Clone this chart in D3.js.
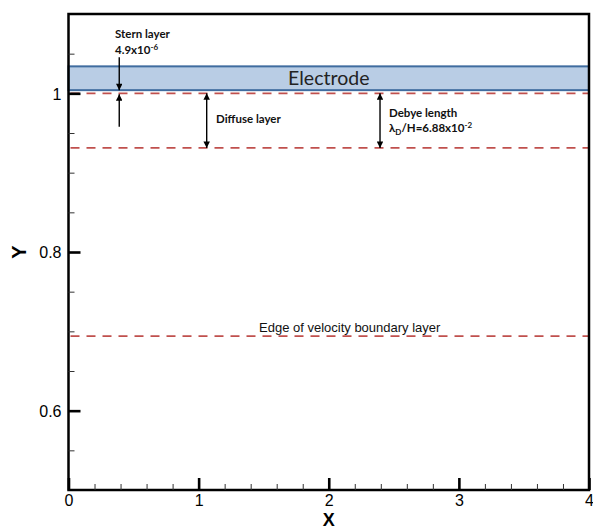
<!DOCTYPE html>
<html>
<head>
<meta charset="utf-8">
<script src="https://cdn.jsdelivr.net/npm/d3@7"></script>
<style>
  html, body { margin: 0; padding: 0; background: #fff; }
  svg { display: block; }
</style>
</head>
<body>
<svg id="chart" width="593" height="530"></svg>
<script>
// Axis ranges and tick values
const xDomain = [0, 4];
const yDomain = [0.5, 1.1];
const xMajorTicks = [0, 1, 2, 3, 4];
const xMinorTicks = [0.2, 0.4, 0.6, 0.8, 1.2, 1.4, 1.6, 1.8, 2.2, 2.4, 2.6, 2.8, 3.2, 3.4, 3.6, 3.8];
const yMajorTicks = [0.6, 0.8, 1.0];
const yMajorLabels = ["0.6", "0.8", "1"];
const yMinorTicks = [0.55, 0.65, 0.7, 0.75, 0.85, 0.9, 0.95, 1.05];

// Electrode slab (bottom, top) in Y
const electrode = [1.004, 1.034];

// Horizontal reference levels: wall, Debye length edge, velocity boundary layer edge
const debyeLength = 0.0688;
const levelNames = ["wall", "debye", "boundary"];
const levelValues = [1.0, 1.0 - debyeLength, 0.694];

// Dimension arrows: x position, y from, y to (arrow heads at the listed ends)
const arrowNames = ["sternDown", "sternUp", "diffuse", "debye"];
const arrowX = [0.39, 0.39, 1.062, 2.394];
const arrowY0 = [1.0455, 0.958, 0.9312, 0.9312];
const arrowY1 = [1.004, 0.999, 1.0, 1.0];
const arrowDouble = [false, false, true, true];

const svg = d3.select("#chart");
const plotLeft = 68.5, plotRight = 589, plotTop = 14, plotBottom = 490;

const x = d3.scaleLinear().domain(xDomain).range([plotLeft, plotRight]);
const y = d3.scaleLinear().domain(yDomain).range([plotBottom, plotTop]);

const labelFont = "'Liberation Sans', Arial, Helvetica, sans-serif";
const noteFont = "Lato, 'Open Sans', sans-serif";

// Arrow head marker
const defs = svg.append("defs");
defs.append("marker")
  .attr("id", "head")
  .attr("viewBox", "0 0 10 10")
  .attr("refX", 10).attr("refY", 5)
  .attr("markerWidth", 9).attr("markerHeight", 6.5)
  .attr("markerUnits", "userSpaceOnUse")
  .attr("orient", "auto-start-reverse")
  .append("path").attr("d", "M0,0 L10,5 L0,10 Z").attr("fill", "#000");

// Electrode slab
svg.append("rect")
  .attr("x", x(0))
  .attr("y", y(electrode[1]))
  .attr("width", x(4) - x(0))
  .attr("height", y(electrode[0]) - y(electrode[1]))
  .attr("fill", "#b9cde5")
  .attr("stroke", "#3f6c9f")
  .attr("stroke-width", 2);

svg.append("text")
  .attr("x", x(2))
  .attr("y", y((electrode[0] + electrode[1]) / 2) + 7)
  .attr("text-anchor", "middle")
  .attr("font-family", noteFont)
  .attr("font-size", 19.5)
  .attr("fill", "#222")
  .text("Electrode");

// Dashed reference levels
svg.append("g").selectAll("line")
  .data(levelValues)
  .join("line")
  .attr("x1", x(0) + 2)
  .attr("x2", x(4))
  .attr("y1", d => y(d))
  .attr("y2", d => y(d))
  .attr("stroke", "#c0504d")
  .attr("stroke-width", 1.8)
  .attr("stroke-dasharray", "9,7");

// Frame
svg.append("rect")
  .attr("x", plotLeft).attr("y", plotTop)
  .attr("width", plotRight - plotLeft).attr("height", plotBottom - plotTop)
  .attr("fill", "none")
  .attr("stroke", "#000")
  .attr("stroke-width", 2.5);

// Bottom axis: inward ticks, labels below
const xMajor = svg.append("g")
  .attr("transform", `translate(0,${plotBottom})`)
  .call(d3.axisBottom(x).tickValues(xMajorTicks).tickFormat(d3.format("d"))
    .tickSizeInner(-12).tickSizeOuter(0).tickPadding(4.5));
const xMinor = svg.append("g")
  .attr("transform", `translate(0,${plotBottom})`)
  .call(d3.axisBottom(x).tickValues(xMinorTicks).tickFormat("")
    .tickSizeInner(-6).tickSizeOuter(0));

// Left axis
const yMajor = svg.append("g")
  .attr("transform", `translate(${plotLeft},0)`)
  .call(d3.axisLeft(y).tickValues(yMajorTicks)
    .tickFormat((d, i) => yMajorLabels[i])
    .tickSizeInner(-12).tickSizeOuter(0).tickPadding(7));
const yMinor = svg.append("g")
  .attr("transform", `translate(${plotLeft},0)`)
  .call(d3.axisLeft(y).tickValues(yMinorTicks).tickFormat("")
    .tickSizeInner(-6).tickSizeOuter(0));

[xMajor, xMinor, yMajor, yMinor].forEach(g => g.select(".domain").remove());
[xMajor, yMajor].forEach(g => {
  g.selectAll(".tick line").attr("stroke", "#000").attr("stroke-width", 2.6);
  g.selectAll(".tick text")
    .attr("font-family", labelFont)
    .attr("font-size", 16)
    .attr("fill", "#000");
});
[xMinor, yMinor].forEach(g => {
  g.selectAll(".tick line").attr("stroke", "#333").attr("stroke-width", 1);
});
yMajor.selectAll(".tick text").attr("dy", "0.36em");

// Axis titles
svg.append("text")
  .attr("x", x(2))
  .attr("y", 526)
  .attr("text-anchor", "middle")
  .attr("font-family", labelFont)
  .attr("font-weight", "bold")
  .attr("font-size", 18)
  .text("X");

svg.append("text")
  .attr("transform", `translate(26,${y(0.8)}) rotate(-90)`)
  .attr("text-anchor", "middle")
  .attr("font-family", labelFont)
  .attr("font-weight", "bold")
  .attr("font-size", 20)
  .text("Y");

// Dimension arrows
svg.append("g").selectAll("line")
  .data(arrowNames)
  .join("line")
  .attr("x1", (d, i) => x(arrowX[i]))
  .attr("x2", (d, i) => x(arrowX[i]))
  .attr("y1", (d, i) => y(arrowY0[i]))
  .attr("y2", (d, i) => y(arrowY1[i]))
  .attr("stroke", "#000")
  .attr("stroke-width", 1.4)
  .attr("marker-end", "url(#head)")
  .attr("marker-start", (d, i) => arrowDouble[i] ? "url(#head)" : null);

// Annotation text
const notes = svg.append("g")
  .attr("font-family", noteFont)
  .attr("font-weight", "bold")
  .attr("font-size", 11.5)
  .attr("fill", "#111");

notes.append("text").attr("x", 115).attr("y", 37.5).text("Stern layer");
const stern = notes.append("text").attr("x", 115).attr("y", 54);
stern.append("tspan").text("4.9x10");
stern.append("tspan").attr("dy", -4).attr("font-size", 8).text("-6");

notes.append("text").attr("x", 216).attr("y", 123).text("Diffuse layer");

notes.append("text").attr("x", 389).attr("y", 117).text("Debye length");
const lam = notes.append("text").attr("x", 389).attr("y", 132);
lam.append("tspan").text("λ");
lam.append("tspan").attr("dy", 2.5).attr("font-size", 8).text("D");
lam.append("tspan").attr("dy", -2.5).text("/H=6.88x10");
lam.append("tspan").attr("dy", -4).attr("font-size", 8).text("-2");

svg.append("text")
  .attr("x", 259).attr("y", 331.5)
  .attr("font-family", labelFont)
  .attr("font-size", 13)
  .attr("fill", "#111")
  .text("Edge of velocity boundary layer");
</script>
</body>
</html>
